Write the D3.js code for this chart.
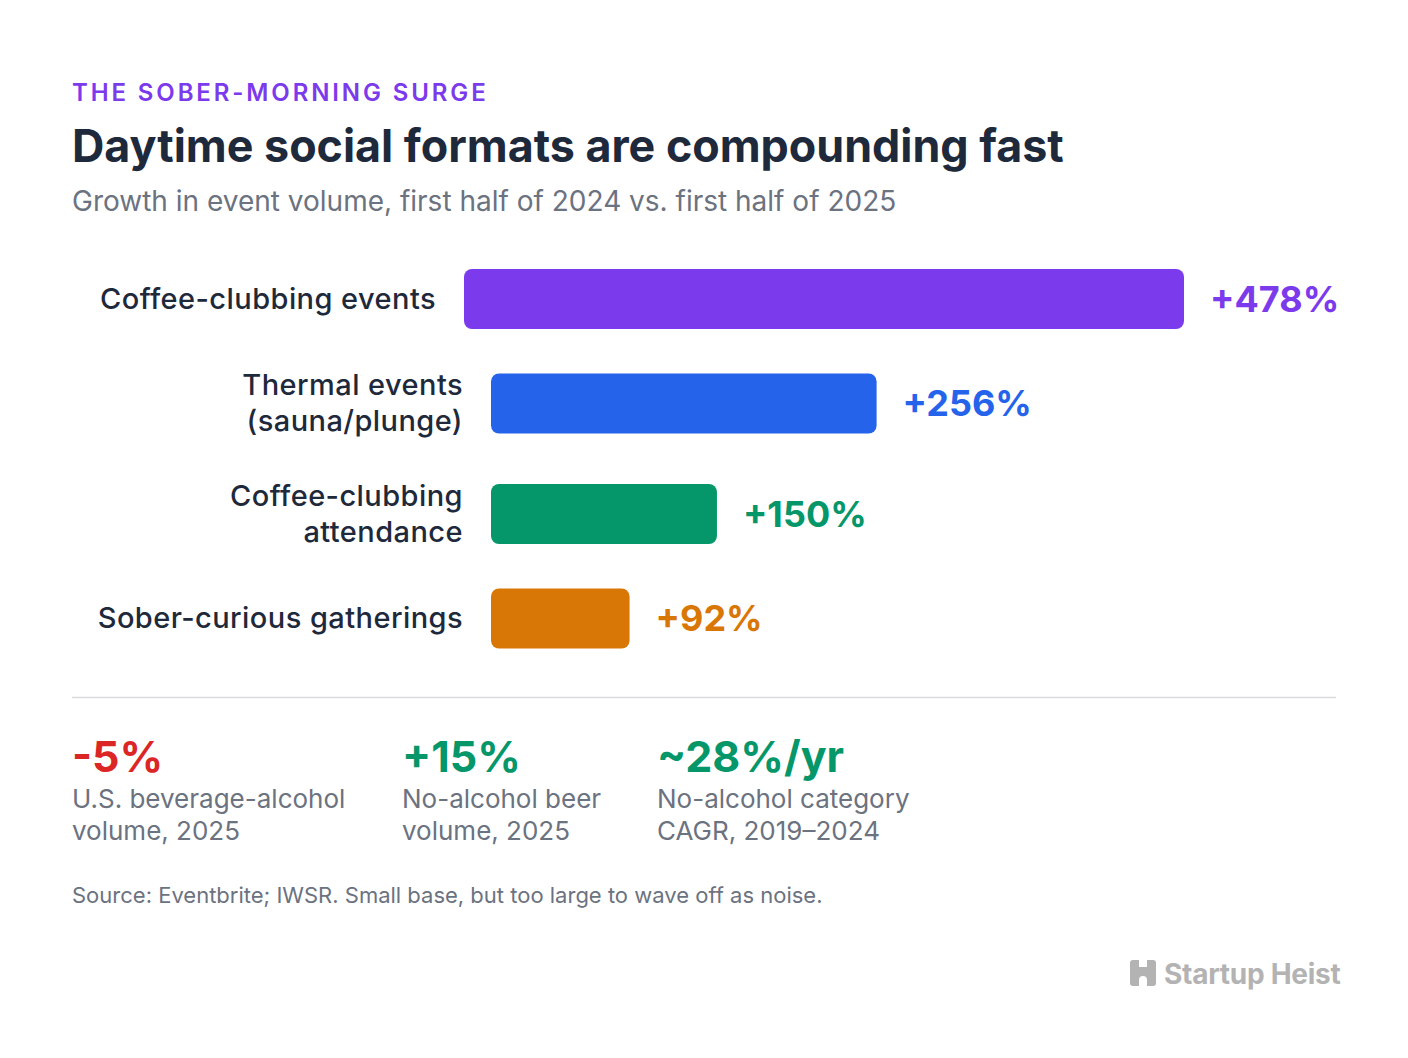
<!DOCTYPE html>
<html>
<head>
<meta charset="utf-8">
<script src="https://cdn.jsdelivr.net/npm/d3@7"></script>
<style>
  body { margin: 0; background: #fff; }
  svg { display: block; font-family: Inter, "Noto Sans", sans-serif; }
</style>
</head>
<body>
<div id="chart"></div>
<script>
// Data
const categories = [
  ["Coffee-clubbing events"],
  ["Thermal events", "(sauna/plunge)"],
  ["Coffee-clubbing", "attendance"],
  ["Sober-curious gatherings"]
];
const growth = [478, 256, 150, 92];
const barColors = ["#7c3aed", "#2563eb", "#059669", "#d97706"];

const statValues = ["-5%", "+15%", "~28%/yr"];
const statLabels = [
  ["U.S. beverage-alcohol", "volume, 2025"],
  ["No-alcohol beer", "volume, 2025"],
  ["No-alcohol category", "CAGR, 2019\u20132024"]
];
const statColors = ["#dc2626", "#059669", "#059669"];

const width = 1408, height = 1058;
const left = 72;
const ink = "#1e293b", grey = "#6b7280";

const svg = d3.select("#chart").append("svg")
    .attr("width", width)
    .attr("height", height);

// Header
svg.append("text")
    .attr("x", left).attr("y", 101)
    .attr("fill", "#7c3aed")
    .style("font-size", "24px").style("font-weight", 600)
    .style("letter-spacing", "0.12em")
    .text("THE SOBER-MORNING SURGE");

svg.append("text")
    .attr("x", left).attr("y", 162)
    .attr("fill", ink)
    .style("font-size", "44.8px").style("font-weight", 700)
    .text("Daytime social formats are compounding fast");

svg.append("text")
    .attr("x", left).attr("y", 211)
    .attr("fill", grey)
    .style("font-size", "28px")
    .text("Growth in event volume, first half of 2024 vs. first half of 2025");

// Bars
const x = d3.scaleLinear().domain([0, d3.max(growth)]).range([0, 720]);
const barH = 60, lineH = 36, rowGap = 38.5, top0 = 269;
const labelRight = [436, 463, 463, 463];
const barGap = 28, valueGap = 26;

let yCursor = top0;
const rows = categories.map((lines, i) => {
  const h = Math.max(barH, lines.length * lineH);
  const cy = yCursor + h / 2;
  yCursor += h + rowGap;
  return { lines, value: growth[i], color: barColors[i], cy, lr: labelRight[i] };
});

const row = svg.selectAll("g.row")
  .data(rows)
  .join("g")
    .attr("class", "row");

row.append("text")
    .attr("text-anchor", "end")
    .attr("fill", ink)
    .style("font-size", "29px").style("font-weight", 500)
    .style("letter-spacing", "0.015em")
  .selectAll("tspan")
  .data(d => d.lines.map((t, j) => ({ t, j, n: d.lines.length, d })))
  .join("tspan")
    .attr("x", o => o.d.lr)
    .attr("y", o => o.d.cy + (o.j - (o.n - 1) / 2) * lineH)
    .attr("dy", "0.34em")
    .text(o => o.t);

row.append("rect")
    .attr("x", d => d.lr + barGap)
    .attr("y", d => d.cy - barH / 2)
    .attr("width", d => x(d.value))
    .attr("height", barH)
    .attr("rx", 8)
    .attr("fill", d => d.color);

row.append("text")
    .attr("x", d => d.lr + barGap + x(d.value) + valueGap)
    .attr("y", d => d.cy)
    .attr("dy", "0.36em")
    .attr("fill", d => d.color)
    .style("font-size", "36px").style("font-weight", 700)
    .text(d => `+${d.value}%`);

// Divider
svg.append("line")
    .attr("x1", left).attr("x2", 1336)
    .attr("y1", 697.5).attr("y2", 697.5)
    .attr("stroke", "#d9d9de").attr("stroke-width", 1.5);

// Stats
const statX = [72, 402, 657];
const stat = svg.selectAll("g.stat")
  .data(statValues.map((v, i) => ({ v, lines: statLabels[i], color: statColors[i], x: statX[i] })))
  .join("g")
    .attr("class", "stat");

stat.append("text")
    .attr("x", d => d.x).attr("y", 772)
    .attr("fill", d => d.color)
    .style("font-size", "43px").style("font-weight", 700)
    .text(d => d.v);

stat.append("text")
    .attr("fill", grey)
    .style("font-size", "26px")
  .selectAll("tspan")
  .data(d => d.lines.map((t, j) => ({ t, j, x: d.x })))
  .join("tspan")
    .attr("x", o => o.x)
    .attr("y", o => 808 + o.j * 32)
    .text(o => o.t);

// Source
svg.append("text")
    .attr("x", left).attr("y", 903)
    .attr("fill", grey)
    .style("font-size", "22px")
    .text("Source: Eventbrite; IWSR. Small base, but too large to wave off as noise.");

// Logo
const logo = svg.append("g").attr("transform", "translate(1130,960)");
logo.append("rect").attr("width", 26).attr("height", 26).attr("rx", 3).attr("fill", "#b3b3b3");
logo.append("rect").attr("x", 9).attr("y", -1).attr("width", 8).attr("height", 8).attr("fill", "#fff");
logo.append("path").attr("d", "M9,27 V20 a4,4 0 0 1 8,0 V27 Z").attr("fill", "#fff");
svg.append("text")
    .attr("x", 1164).attr("y", 984)
    .attr("fill", "#b3b3b3")
    .style("font-size", "28px").style("font-weight", 700)
    .style("letter-spacing", "-0.01em")
    .text("Startup Heist");
</script>
</body>
</html>
